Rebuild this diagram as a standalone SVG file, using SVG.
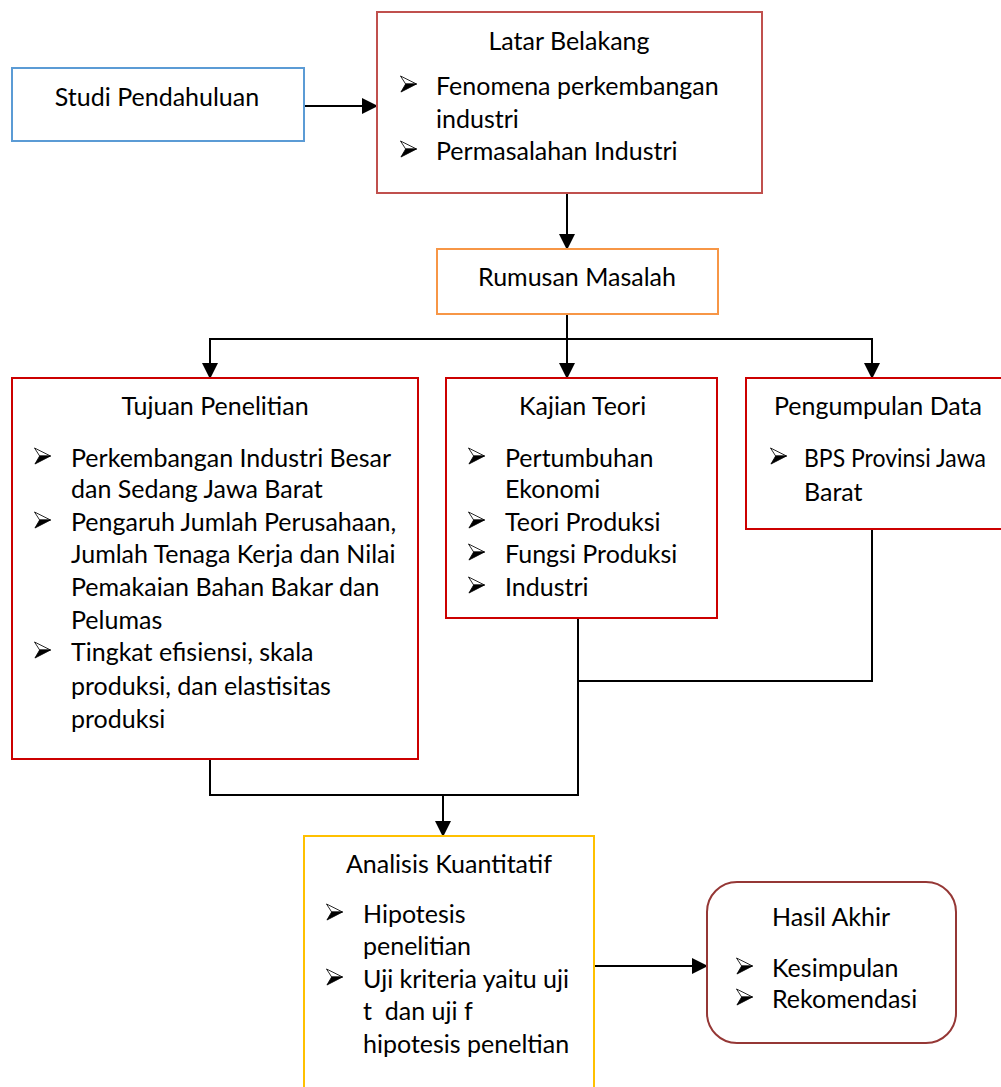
<svg xmlns="http://www.w3.org/2000/svg" xmlns:xlink="http://www.w3.org/1999/xlink" width="1001" height="1087" viewBox="0 0 1001 1087">
<style>
.t{font-family:Lato,"Liberation Sans",sans-serif;font-size:25px;fill:#000}
.c{text-anchor:middle}
.box{fill:#fff;stroke-width:2}
.ln{fill:none;stroke:#000;stroke-width:2}
</style>
<defs>
<marker id="ah" markerUnits="userSpaceOnUse" markerWidth="16" markerHeight="16" viewBox="0 0 16 16" refX="15" refY="8" orient="auto">
<path d="M0,0 L16,8 L0,16 Z" fill="#000"/>
</marker>
<symbol id="bul" viewBox="0 0 18 18">
<path d="M0.5,0.5 L17.5,9 L6,9 Z" fill="#fff" stroke="#000" stroke-width="0.9" stroke-linejoin="round"/>
<path d="M6,9 L17.5,9 L1,17.5 Z" fill="#000" stroke="#000" stroke-width="0.9" stroke-linejoin="round"/>
</symbol>
</defs>
<rect width="1001" height="1087" fill="#fff"/>

<g id="connectors">
<line class="ln" x1="304" y1="106" x2="377" y2="106" stroke-width="3" marker-end="url(#ah)"/>
<line class="ln" x1="567" y1="193" x2="567" y2="249" stroke-width="2.5" marker-end="url(#ah)"/>
<line class="ln" x1="567" y1="314" x2="567" y2="378" marker-end="url(#ah)"/>
<polyline class="ln" points="210,378 210,339 872,339 872,378"/>
<line class="ln" x1="210" y1="345" x2="210" y2="378" marker-end="url(#ah)"/>
<line class="ln" x1="872" y1="345" x2="872" y2="378" marker-end="url(#ah)"/>
<polyline class="ln" points="872,529 872,681 578,681"/>
<polyline class="ln" points="578,618 578,795 210,795 210,759"/>
<line class="ln" x1="443" y1="795" x2="443" y2="836" marker-end="url(#ah)"/>
<line class="ln" x1="594" y1="966" x2="707" y2="966" stroke-width="3" marker-end="url(#ah)"/>
</g>

<g id="studi-pendahuluan">
<rect class="box" x="12" y="68" width="292" height="73" stroke="#5B9BD5"/>
<text class="t c" x="157" y="106">Studi Pendahuluan</text>
</g>

<g id="latar-belakang">
<rect class="box" x="377" y="12" width="385" height="181" stroke="#C0504D"/>
<text class="t c" x="569" y="50">Latar Belakang</text>
<use xlink:href="#bul" x="400" y="75" width="17" height="18"/>
<text class="t" x="436" y="95">Fenomena perkembangan</text>
<text class="t" x="436" y="128">industri</text>
<use xlink:href="#bul" x="400" y="140" width="17" height="18"/>
<text class="t" x="436" y="160">Permasalahan Industri</text>
</g>

<g id="rumusan-masalah">
<rect class="box" x="437" y="249" width="281" height="65" stroke="#F79646"/>
<text class="t c" x="577" y="286">Rumusan Masalah</text>
</g>

<g id="tujuan-penelitian">
<rect class="box" x="12" y="378" width="406" height="381" stroke="#CC0000"/>
<text class="t c" x="215" y="415">Tujuan Penelitian</text>
<use xlink:href="#bul" x="34" y="447" width="17" height="18"/>
<text class="t" x="71" y="467">Perkembangan Industri Besar</text>
<text class="t" x="71" y="498">dan Sedang Jawa Barat</text>
<use xlink:href="#bul" x="34" y="511" width="17" height="18"/>
<text class="t" x="71" y="531">Pengaruh Jumlah Perusahaan,</text>
<text class="t" x="71" y="563">Jumlah Tenaga Kerja dan Nilai</text>
<text class="t" x="71" y="596">Pemakaian Bahan Bakar dan</text>
<text class="t" x="71" y="629">Pelumas</text>
<use xlink:href="#bul" x="34" y="641" width="17" height="18"/>
<text class="t" x="71" y="661">Tingkat efisiensi, skala</text>
<text class="t" x="71" y="695">produksi, dan elastisitas</text>
<text class="t" x="71" y="728">produksi</text>
</g>

<g id="kajian-teori">
<rect class="box" x="446" y="378" width="271" height="240" stroke="#CC0000"/>
<text class="t" x="519" y="415">Kajian Teori</text>
<use xlink:href="#bul" x="468" y="447" width="17" height="18"/>
<text class="t" x="505" y="467">Pertumbuhan</text>
<text class="t" x="505" y="498">Ekonomi</text>
<use xlink:href="#bul" x="468" y="511" width="17" height="18"/>
<text class="t" x="505" y="531">Teori Produksi</text>
<use xlink:href="#bul" x="468" y="543" width="17" height="18"/>
<text class="t" x="505" y="563">Fungsi Produksi</text>
<use xlink:href="#bul" x="468" y="576" width="17" height="18"/>
<text class="t" x="505" y="596">Industri</text>
</g>

<g id="pengumpulan-data">
<rect class="box" x="746" y="378" width="270" height="151" stroke="#CC0000"/>
<text class="t" x="774" y="415">Pengumpulan Data</text>
<use xlink:href="#bul" x="770" y="447" width="17" height="18"/>
<text class="t" x="804" y="467" textLength="182" lengthAdjust="spacingAndGlyphs">BPS Provinsi Jawa</text>
<text class="t" x="804" y="501">Barat</text>
</g>

<g id="analisis-kuantitatif">
<rect class="box" x="304" y="836" width="290" height="270" stroke="#FFC000"/>
<text class="t c" x="449" y="873">Analisis Kuantitatif</text>
<use xlink:href="#bul" x="326" y="903" width="17" height="18"/>
<text class="t" x="363" y="923">Hipotesis</text>
<text class="t" x="363" y="955">penelitian</text>
<use xlink:href="#bul" x="326" y="968" width="17" height="18"/>
<text class="t" x="363" y="988">Uji kriteria yaitu uji</text>
<text class="t" x="363" y="1020" xml:space="preserve">t  dan uji f</text>
<text class="t" x="363" y="1053">hipotesis peneltian</text>
</g>

<g id="hasil-akhir">
<rect class="box" x="707" y="882" width="249" height="161" rx="30" ry="30" stroke="#953735"/>
<text class="t c" x="831" y="926">Hasil Akhir</text>
<use xlink:href="#bul" x="736" y="957" width="17" height="18"/>
<text class="t" x="772" y="977">Kesimpulan</text>
<use xlink:href="#bul" x="736" y="988" width="17" height="18"/>
<text class="t" x="772" y="1008">Rekomendasi</text>
</g>
</svg>
